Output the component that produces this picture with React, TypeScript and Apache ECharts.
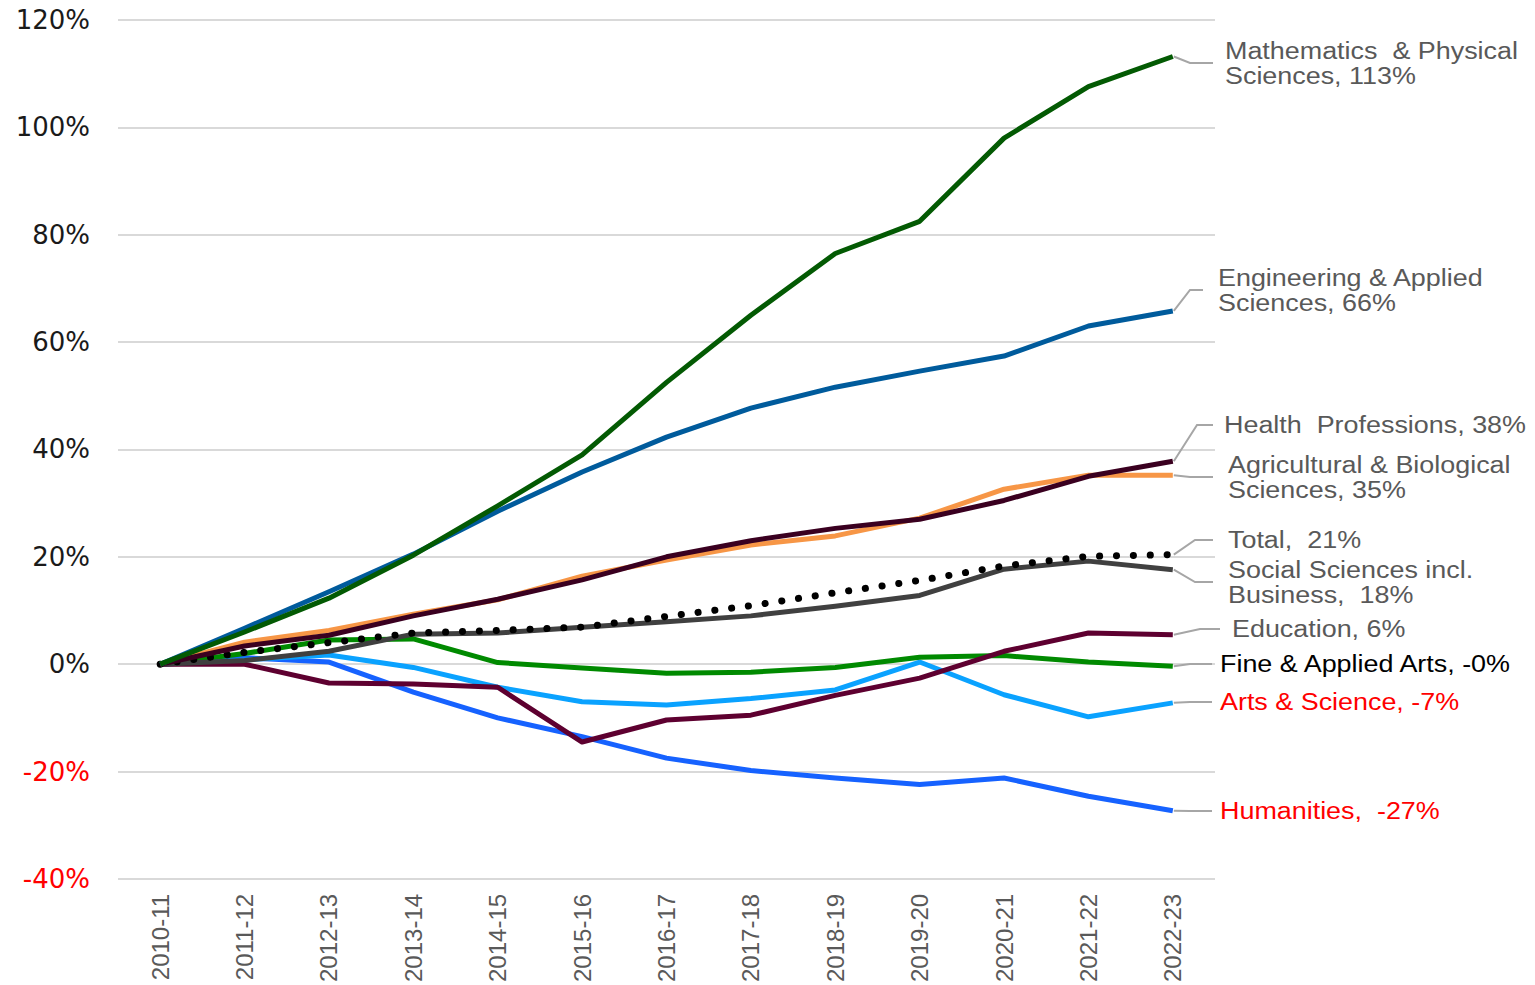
import React, { useEffect, useRef } from "react";
import * as echarts from "echarts";

const categories = [
  "2010-11", "2011-12", "2012-13", "2013-14", "2014-15", "2015-16", "2016-17",
  "2017-18", "2018-19", "2019-20", "2020-21", "2021-22", "2022-23",
];

const yTicks = { min: -40, max: 120, interval: 20 };

const humanities = [0, 1.2, 0.4, -5.2, -10, -13.5, -17.5, -19.8, -21.2, -22.4, -21.2, -24.6, -27.3];
const artsScience = [0, 0.8, 1.7, -0.6, -4.3, -7, -7.6, -6.4, -4.8, 0.4, -5.7, -9.8, -7.2];
const fineArts = [0, 2, 4.5, 4.7, 0.3, -0.7, -1.7, -1.5, -0.6, 1.3, 1.6, 0.4, -0.4];
const education = [0, 0, -3.5, -3.7, -4.3, -14.5, -10.4, -9.5, -5.8, -2.6, 2.4, 5.8, 5.5];
const socialSciences = [0, 0.7, 2.4, 5.6, 5.8, 6.9, 7.9, 9, 10.8, 12.8, 17.7, 19.2, 17.6];
const total = [0, 2.2, 4, 5.8, 6.3, 6.9, 8.9, 10.9, 13.3, 15.6, 18.3, 20.1, 20.4];
const agricultural = [0, 4.1, 6.3, 9.3, 12, 16.4, 19.4, 22.2, 23.9, 27.2, 32.6, 35.2, 35.2];
const health = [0, 3.4, 5.4, 9, 12.1, 15.7, 20, 23, 25.3, 27, 30.5, 35, 37.8];
const engineering = [0, 6.7, 13.5, 20.5, 28.5, 35.8, 42.3, 47.7, 51.6, 54.6, 57.4, 63, 65.8];
const mathematics = [0, 6, 12.3, 20.3, 29.5, 39, 52.5, 65, 76.5, 82.5, 98, 107.6, 113.2];

const seriesNames = [
  "Humanities", "Arts & Science", "Fine & Applied Arts", "Education",
  "Social Sciences incl. Business", "Total", "Agricultural & Biological Sciences",
  "Health Professions", "Engineering & Applied Sciences", "Mathematics & Physical Sciences",
];
const seriesValues = [
  humanities, artsScience, fineArts, education, socialSciences, total,
  agricultural, health, engineering, mathematics,
];
const seriesColors = [
  "#1662FF", "#0AA2FF", "#008A00", "#5E0030", "#404040", "#000000",
  "#F79646", "#3A0020", "#005B9C", "#035A03",
];

const labelTexts = [
  "Humanities,  -27%",
  "Arts & Science, -7%",
  "Fine & Applied Arts, -0%",
  "Education, 6%",
  "Social Sciences incl.\nBusiness,  18%",
  "Total,  21%",
  "Agricultural & Biological\nSciences, 35%",
  "Health  Professions, 38%",
  "Engineering & Applied\nSciences, 66%",
  "Mathematics  & Physical\nSciences, 113%",
];

// layout of the callout labels (pixels): leader elbow, leader end, text start, label row y
const labelLayout = [
  { elbowX: 1190, endX: 1212, textX: 1220, y: 811, color: "#FF0000" },
  { elbowX: 1190, endX: 1212, textX: 1220, y: 702, color: "#FF0000" },
  { elbowX: 1190, endX: 1212, textX: 1220, y: 664, color: "#000000" },
  { elbowX: 1200, endX: 1220, textX: 1232, y: 629, color: "#595959" },
  { elbowX: 1195, endX: 1213, textX: 1228, y: 582, color: "#595959" },
  { elbowX: 1195, endX: 1213, textX: 1228, y: 540, color: "#595959" },
  { elbowX: 1190, endX: 1213, textX: 1228, y: 477, color: "#595959" },
  { elbowX: 1197, endX: 1213, textX: 1224, y: 425, color: "#595959" },
  { elbowX: 1190, endX: 1203, textX: 1218, y: 290, color: "#595959" },
  { elbowX: 1190, endX: 1213, textX: 1225, y: 63, color: "#595959" },
];

export default function App() {
  const ref = useRef<HTMLDivElement>(null);

  useEffect(() => {
    if (!ref.current) return;
    const chart = echarts.init(ref.current, undefined, { renderer: "svg" });

    const series = seriesNames.map((name, i) => {
      const isTotal = name === "Total";
      return {
        name,
        type: "line",
        data: seriesValues[i],
        showSymbol: false,
        symbol: "none",
        z: 2 + i,
        lineStyle: isTotal
          ? { color: seriesColors[i], width: 7, type: [0.1, 16.8], cap: "round" }
          : { color: seriesColors[i], width: 5, join: "round" },
        itemStyle: { color: seriesColors[i] },
        emphasis: { disabled: true },
      };
    });

    chart.setOption({
      animation: false,
      backgroundColor: "#ffffff",
      grid: { left: 118, top: 20, width: 1097, height: 859, containLabel: false },
      xAxis: {
        type: "category",
        data: categories,
        boundaryGap: true,
        axisLine: { show: false },
        axisTick: { show: false },
        splitLine: { show: false },
        axisLabel: {
          rotate: 90,
          margin: 15,
          color: "#595959",
          fontFamily: "Liberation Sans",
          fontSize: 24,
          interval: 0,
        },
      },
      yAxis: {
        type: "value",
        min: yTicks.min,
        max: yTicks.max,
        interval: yTicks.interval,
        axisLine: { show: false },
        axisTick: { show: false },
        splitLine: { show: true, lineStyle: { color: "#D9D9D9", width: 2 } },
        axisLabel: {
          margin: 28,
          fontFamily: "DejaVu Sans",
          fontSize: 26,
          formatter: (v: number) => `${v}%`,
          color: (v: any) => (Number(v) < 0 ? "#FF0000" : "#1A1A1A"),
        },
      },
      tooltip: { show: false },
      series,
    });

    const graphics: any[] = [];
    seriesValues.forEach((vals, i) => {
      const last = vals.length - 1;
      const p = chart.convertToPixel({ gridIndex: 0 }, [last, vals[last]]) as number[];
      const L = labelLayout[i];
      graphics.push({
        type: "polyline",
        z: 100,
        shape: {
          points: [
            [p[0] + 1, p[1]],
            [L.elbowX, L.y],
            [L.endX, L.y],
          ],
        },
        style: { stroke: "#A6A6A6", lineWidth: 2, fill: null },
        silent: true,
      });
      graphics.push({
        type: "text",
        z: 100,
        x: L.textX,
        y: L.y,
        scaleX: 1.17,
        style: {
          text: labelTexts[i],
          fill: L.color,
          font: "23px 'Liberation Sans'",
          lineHeight: 25,
          verticalAlign: "middle",
          align: "left",
        },
        silent: true,
      });
    });
    chart.setOption({ graphic: graphics });

    return () => chart.dispose();
  }, []);

  return (
    <div
      ref={ref}
      style={{ position: "fixed", left: -8, top: -8, width: 1535, height: 985, background: "#fff" }}
    />
  );
}
